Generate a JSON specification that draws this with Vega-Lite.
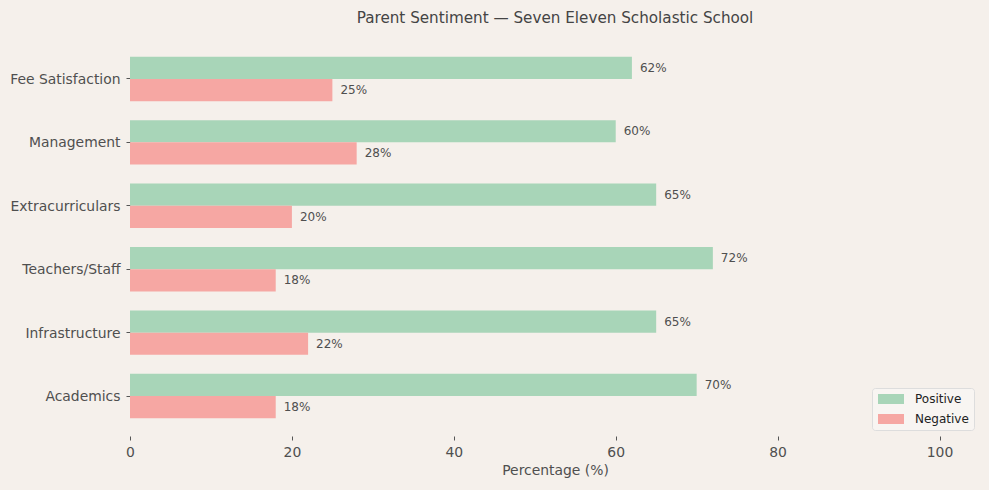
{
  "$schema": "https://vega.github.io/schema/vega-lite/v6.json",
  "autosize": "none",
  "padding": {"left": 130, "top": 39, "right": 9, "bottom": 54},
  "width": 850,
  "height": 397,
  "background": "#f5f0eb",
  "config": {
    "view": {"stroke": null},
    "font": "DejaVu Sans"
  },
  "title": {
    "text": "Parent Sentiment — Seven Eleven Scholastic School",
    "fontSize": 15.2,
    "fontWeight": "normal",
    "color": "#444444",
    "anchor": "middle",
    "offset": 13,
    "font": "DejaVu Sans"
  },
  "data": {
    "values": [
      {"aspect": "Fee Satisfaction", "sentiment": "Positive", "pct": 62},
      {"aspect": "Fee Satisfaction", "sentiment": "Negative", "pct": 25},
      {"aspect": "Management", "sentiment": "Positive", "pct": 60},
      {"aspect": "Management", "sentiment": "Negative", "pct": 28},
      {"aspect": "Extracurriculars", "sentiment": "Positive", "pct": 65},
      {"aspect": "Extracurriculars", "sentiment": "Negative", "pct": 20},
      {"aspect": "Teachers/Staff", "sentiment": "Positive", "pct": 72},
      {"aspect": "Teachers/Staff", "sentiment": "Negative", "pct": 18},
      {"aspect": "Infrastructure", "sentiment": "Positive", "pct": 65},
      {"aspect": "Infrastructure", "sentiment": "Negative", "pct": 22},
      {"aspect": "Academics", "sentiment": "Positive", "pct": 70},
      {"aspect": "Academics", "sentiment": "Negative", "pct": 18}
    ]
  },
  "encoding": {
    "y": {
      "field": "aspect",
      "type": "nominal",
      "sort": ["Fee Satisfaction", "Management", "Extracurriculars", "Teachers/Staff", "Infrastructure", "Academics"],
      "scale": {"paddingInner": 0.3, "paddingOuter": 0.28},
      "axis": {
        "title": null,
        "domain": false,
        "ticks": true,
        "tickSize": 4,
        "tickColor": "#555555",
        "labelPadding": 6,
        "labelOffset": 1,
        "labelFontSize": 13.9,
        "labelColor": "#4f4f4f",
        "labelFont": "DejaVu Sans"
      }
    },
    "yOffset": {
      "field": "sentiment",
      "type": "nominal",
      "sort": ["Positive", "Negative"],
      "scale": {"paddingInner": 0, "paddingOuter": 0}
    },
    "x": {
      "field": "pct",
      "type": "quantitative",
      "scale": {"domain": [0, 105], "nice": false},
      "axis": {
        "title": "Percentage (%)",
        "values": [0, 20, 40, 60, 80, 100],
        "domain": false,
        "grid": false,
        "tickSize": 4,
        "tickColor": "#555555",
        "labelPadding": 5,
        "labelFlush": false,
        "labelFontSize": 13.9,
        "labelColor": "#4f4f4f",
        "labelFont": "DejaVu Sans",
        "titleFontSize": 13.9,
        "titleFontWeight": "normal",
        "titleColor": "#4f4f4f",
        "titleFont": "DejaVu Sans",
        "titlePadding": 5
      }
    }
  },
  "layer": [
    {
      "mark": {"type": "bar"},
      "encoding": {
        "color": {
          "field": "sentiment",
          "type": "nominal",
          "sort": ["Positive", "Negative"],
          "scale": {"domain": ["Positive", "Negative"], "range": ["#a8d5b8", "#f6a7a3"]},
          "legend": {
            "title": null,
            "orient": "none",
            "legendX": 742,
            "legendY": 349,
            "symbolType": "M-1,-1L4.2,-1L4.2,1L-1,1Z",
            "symbolSize": 100,
            "symbolStrokeWidth": 0,
            "labelFontSize": 12,
            "labelColor": "#222222",
            "labelFont": "DejaVu Sans",
            "fillColor": "#f8f5f2",
            "strokeColor": "#dddddd",
            "cornerRadius": 3,
            "padding": 5,
            "rowPadding": 8,
            "labelOffset": 26
          }
        }
      }
    },
    {
      "transform": [{"calculate": "datum.pct + '%'", "as": "label"}],
      "mark": {"type": "text", "align": "left", "baseline": "middle", "dx": 8, "fontSize": 12, "color": "#4f4f4f", "font": "DejaVu Sans"},
      "encoding": {
        "text": {"field": "label", "type": "nominal"}
      }
    }
  ]
}
